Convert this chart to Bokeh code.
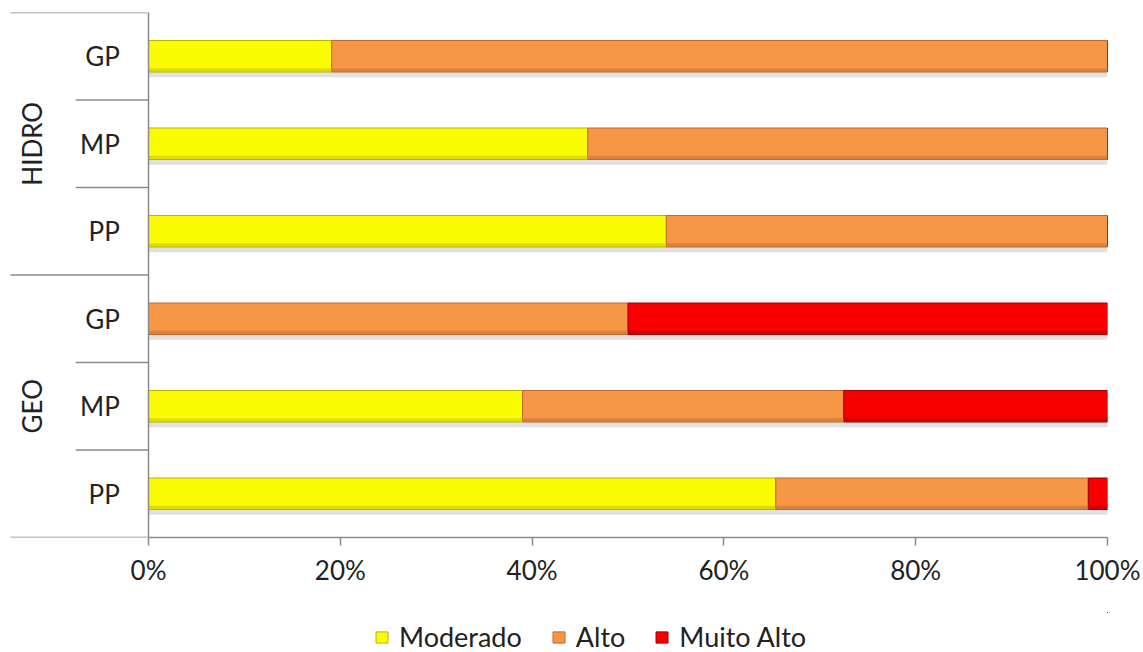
import math
from bokeh.plotting import figure
from bokeh.layouts import column
from bokeh.models import (ColumnDataSource, Range1d, FixedTicker, Legend, LegendItem)
from bokeh.core.properties import value
from bokeh.embed import file_html
from bokeh.resources import INLINE

# ---- data (bottom row first) ----
groups = ["GEO", "GEO", "GEO", "HIDRO", "HIDRO", "HIDRO"]
subgroups = ["PP", "MP", "GP", "PP", "MP", "GP"]
series_names = ["Moderado", "Alto", "Muito Alto"]
moderado = [65.4, 39.0, 0.0, 54.0, 45.8, 19.1]
alto = [32.6, 33.5, 50.0, 46.0, 54.2, 80.9]
muito_alto = [2.0, 27.5, 50.0, 0.0, 0.0, 0.0]
x_ticks = [0, 20, 40, 60, 80, 100]
x_tick_labels = ["0%", "20%", "40%", "60%", "80%", "100%"]

fill_colors = ["#FCFC00", "#F79646", "#F80000"]
dark_colors = ["#C8C800", "#C8733A", "#B80000"]
line_colors = ["#B5B500", "#BC6A2E", "#A00000"]
FONT = "Lato"
TEXT_COLOR = "#222222"
AXIS_COLOR = "#8a8a8a"
BAR_H = 0.36

n = len(groups)
ypos = [i + 0.5 for i in range(n)]
totals = [a + b + c for a, b, c in zip(moderado, alto, muito_alto)]

src = ColumnDataSource(dict(y=ypos, Moderado=moderado, Alto=alto,
                            **{"Muito Alto": muito_alto},
                            total=totals,
                            shadow_y=[y - 0.06 for y in ypos],
                            lo_y=[y - BAR_H / 2 + 0.022 for y in ypos]))

p = figure(width=1143, height=612, x_range=Range1d(-14.6, 100), y_range=Range1d(0, n),
           output_backend="svg", toolbar_location=None, y_axis_location=None,
           min_border_left=8, min_border_right=36, min_border_top=12, min_border_bottom=75)
p.outline_line_color = None
p.grid.visible = False
p.background_fill_color = "white"

# shadow under bars
p.hbar(y="shadow_y", left=0, right="total", height=BAR_H, source=src,
       fill_color="#c8c8c8", fill_alpha=0.55, line_color=None)

bars = p.hbar_stack(series_names, y="y", height=BAR_H, source=src,
                    fill_color=fill_colors, line_color=line_colors, line_width=1)
# darker lower bevel
p.hbar_stack(series_names, y="lo_y", height=0.044, source=src,
             fill_color=dark_colors, fill_alpha=0.6, line_color=None)

# category axis line and separators
p.segment(x0=[0], y0=[0], x1=[0], y1=[n], line_color=AXIS_COLOR, line_width=1.5)
bounds = list(range(n + 1))
outer = [b for b in bounds if b == 0 or b == n or groups[b - 1] != groups[b]]
inner = [b for b in bounds if b not in outer]
p.segment(x0=[-14.4] * len(outer), y0=outer, x1=[0] * len(outer), y1=outer,
          line_color=AXIS_COLOR, line_width=1.5)
p.segment(x0=[-7.6] * len(inner), y0=inner, x1=[0] * len(inner), y1=inner,
          line_color=AXIS_COLOR, line_width=1.5)

# subgroup labels
p.text(x=[-3.0] * n, y=ypos, text=subgroups, text_align="right", text_baseline="middle",
       text_font=value(FONT), text_font_size=value("26px"), text_color=TEXT_COLOR)

# group labels
gnames, gcenters = [], []
for g in dict.fromkeys(groups):
    idx = [i for i, gg in enumerate(groups) if gg == g]
    gnames.append(g)
    gcenters.append((min(idx) + max(idx) + 1) / 2)
p.text(x=[-12.1] * len(gnames), y=gcenters, text=gnames, angle=math.pi / 2,
       text_align="center", text_baseline="middle",
       text_font=value(FONT), text_font_size=value("26px"), text_color=TEXT_COLOR)

# x axis
ax = p.xaxis[0]
ax.ticker = FixedTicker(ticks=x_ticks)
ax.major_label_overrides = {t: l for t, l in zip(x_ticks, x_tick_labels)}
ax.bounds = (0, 100)
ax.axis_line_color = AXIS_COLOR
ax.axis_line_width = 1.5
ax.major_tick_line_color = AXIS_COLOR
ax.major_tick_line_width = 1.5
ax.major_tick_out = 8
ax.major_tick_in = 0
ax.minor_tick_line_color = None
ax.major_label_standoff = 8
ax.major_label_text_font = FONT
ax.major_label_text_font_size = "26px"
ax.major_label_text_color = TEXT_COLOR

# ---- legend strip below the chart (same stacked series, viewport away from the bars) ----
lg = figure(width=1143, height=40, x_range=Range1d(-3, -2), y_range=Range1d(-10, -9),
            output_backend="svg", toolbar_location=None,
            x_axis_location=None, y_axis_location=None, min_border=0)
lg.outline_line_color = None
lg.grid.visible = False
key_renderers = lg.hbar_stack(series_names, y="y", height=BAR_H, source=src,
                              fill_color=fill_colors, line_color=line_colors, line_width=1)
legend = Legend(items=[LegendItem(label=nm, renderers=[r])
                       for nm, r in zip(series_names, key_renderers)],
                orientation="horizontal", location=(366, -1),
                padding=0, margin=0, spacing=29, label_standoff=10,
                glyph_width=15, glyph_height=14,
                label_text_font=FONT, label_text_font_size="27px",
                label_text_color=TEXT_COLOR, border_line_color=None,
                background_fill_alpha=0)
lg.add_layout(legend, "center")

layout = column(p, lg, spacing=0)
open("out.html", "w").write(file_html(layout, INLINE))
